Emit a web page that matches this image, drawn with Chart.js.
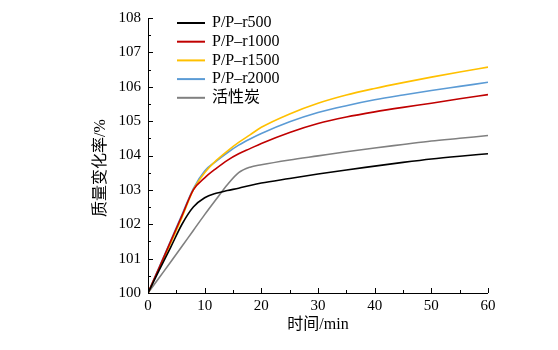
<!DOCTYPE html>
<html>
<head>
<meta charset="utf-8">
<script src="https://cdn.jsdelivr.net/npm/chart.js@4.4.1/dist/chart.umd.min.js"></script>
<style>
  body { margin: 0; background: #fff; }
  #wrap { width: 558px; height: 350px; }
</style>
</head>
<body>
<div id="wrap"><canvas id="chart"></canvas></div>
<script>
const time = [0, 2, 4, 6, 8, 10, 12, 14, 16, 18, 20, 25, 30, 35, 40, 45, 50, 55, 60];
const r500  = [100, 100.67, 101.33, 102.0, 102.5, 102.77, 102.9, 102.98, 103.05, 103.13, 103.2, 103.33, 103.46, 103.58, 103.69, 103.8, 103.9, 103.98, 104.05];
const r1000 = [100, 100.75, 101.5, 102.25, 103.0, 103.35, 103.62, 103.86, 104.05, 104.2, 104.35, 104.67, 104.93, 105.12, 105.27, 105.4, 105.52, 105.65, 105.77];
const r1500 = [100, 100.72, 101.45, 102.2, 103.0, 103.5, 103.85, 104.13, 104.38, 104.6, 104.82, 105.21, 105.52, 105.76, 105.95, 106.12, 106.28, 106.43, 106.57];
const r2000 = [100, 100.76, 101.52, 102.28, 103.04, 103.55, 103.83, 104.08, 104.3, 104.48, 104.64, 104.98, 105.25, 105.45, 105.62, 105.76, 105.89, 106.01, 106.13];
const carbon = [100, 100.45, 100.9, 101.36, 101.82, 102.28, 102.72, 103.15, 103.5, 103.66, 103.73, 103.87, 103.99, 104.11, 104.22, 104.32, 104.42, 104.5, 104.58];

const labels = ['P/P–r500', 'P/P–r1000', 'P/P–r1500', 'P/P–r2000', '活性炭'];
const colors = ['#000000', '#C00000', '#FFC000', '#5B9BD5', '#808080'];
const series = [r500, r1000, r1500, r2000, carbon];

const serif = "'Liberation Serif', 'Noto Sans CJK SC', serif";

// axis lines, inward ticks, titles and legend
const axesPlugin = {
    id: 'axesPlugin',
    afterDraw(chart) {
        const ctx = chart.ctx;
        const xs = chart.scales.x, ys = chart.scales.y;
        const a = chart.chartArea;
        ctx.save();
        ctx.strokeStyle = '#000';
        ctx.lineWidth = 1;
        ctx.beginPath();
        ctx.moveTo(a.left + 0.5, a.top);
        ctx.lineTo(a.left + 0.5, a.bottom + 0.5);
        ctx.lineTo(a.right, a.bottom + 0.5);
        for (let v = 100; v <= 108; v += 0.5) {
            const y = Math.round(ys.getPixelForValue(v)) + 0.5;
            const len = Number.isInteger(v) ? 5 : 3;
            ctx.moveTo(a.left, y);
            ctx.lineTo(a.left + len, y);
        }
        for (let v = 0; v <= 60; v += 5) {
            const x = Math.round(xs.getPixelForValue(v)) + 0.5;
            const len = v % 10 === 0 ? 5 : 3;
            ctx.moveTo(x, a.bottom);
            ctx.lineTo(x, a.bottom - len);
        }
        ctx.stroke();

        // titles
        ctx.fillStyle = '#000';
        ctx.font = '16px ' + serif;
        ctx.textAlign = 'center';
        ctx.textBaseline = 'middle';
        ctx.fillText('时间/min', (a.left + a.right) / 2, 325);
        ctx.save();
        ctx.translate(101, 168);
        ctx.rotate(-Math.PI / 2);
        ctx.fillText('质量变化率/%', 0, 0);
        ctx.restore();

        // legend
        ctx.font = '16px ' + serif;
        ctx.textAlign = 'left';
        labels.forEach((lab, i) => {
            const y = 23 + i * 18.7;
            ctx.strokeStyle = colors[i];
            ctx.lineWidth = 2;
            ctx.beginPath();
            ctx.moveTo(177, y);
            ctx.lineTo(205, y);
            ctx.stroke();
            ctx.fillText(lab, 212, y);
        });
        ctx.restore();
    }
};

new Chart(document.getElementById('chart'), {
    type: 'line',
    data: {
        datasets: series.map((s, i) => ({
            label: labels[i],
            data: s.map((v, j) => ({ x: time[j], y: v })),
            borderColor: colors[i],
            borderWidth: 1.6,
            pointRadius: 0,
            cubicInterpolationMode: 'monotone',
            fill: false
        }))
    },
    options: {
        responsive: true,
        maintainAspectRatio: false,
        animation: false,
        layout: { padding: { left: 0, right: 70, top: 18, bottom: 0 } },
        plugins: { legend: { display: false }, tooltip: { enabled: false } },
        scales: {
            x: {
                type: 'linear',
                min: 0,
                max: 60,
                grid: { display: false, drawTicks: false },
                border: { display: false },
                ticks: { stepSize: 10, color: '#000', padding: 4, font: { family: serif, size: 15 } },
                afterFit(scale) { scale.height = 57; }
            },
            y: {
                min: 100,
                max: 108,
                grid: { display: false, drawTicks: false },
                border: { display: false },
                ticks: { stepSize: 1, color: '#000', padding: 7, font: { family: serif, size: 15 } },
                afterFit(scale) { scale.width = 148; }
            }
        }
    },
    plugins: [axesPlugin]
});
</script>
</body>
</html>
